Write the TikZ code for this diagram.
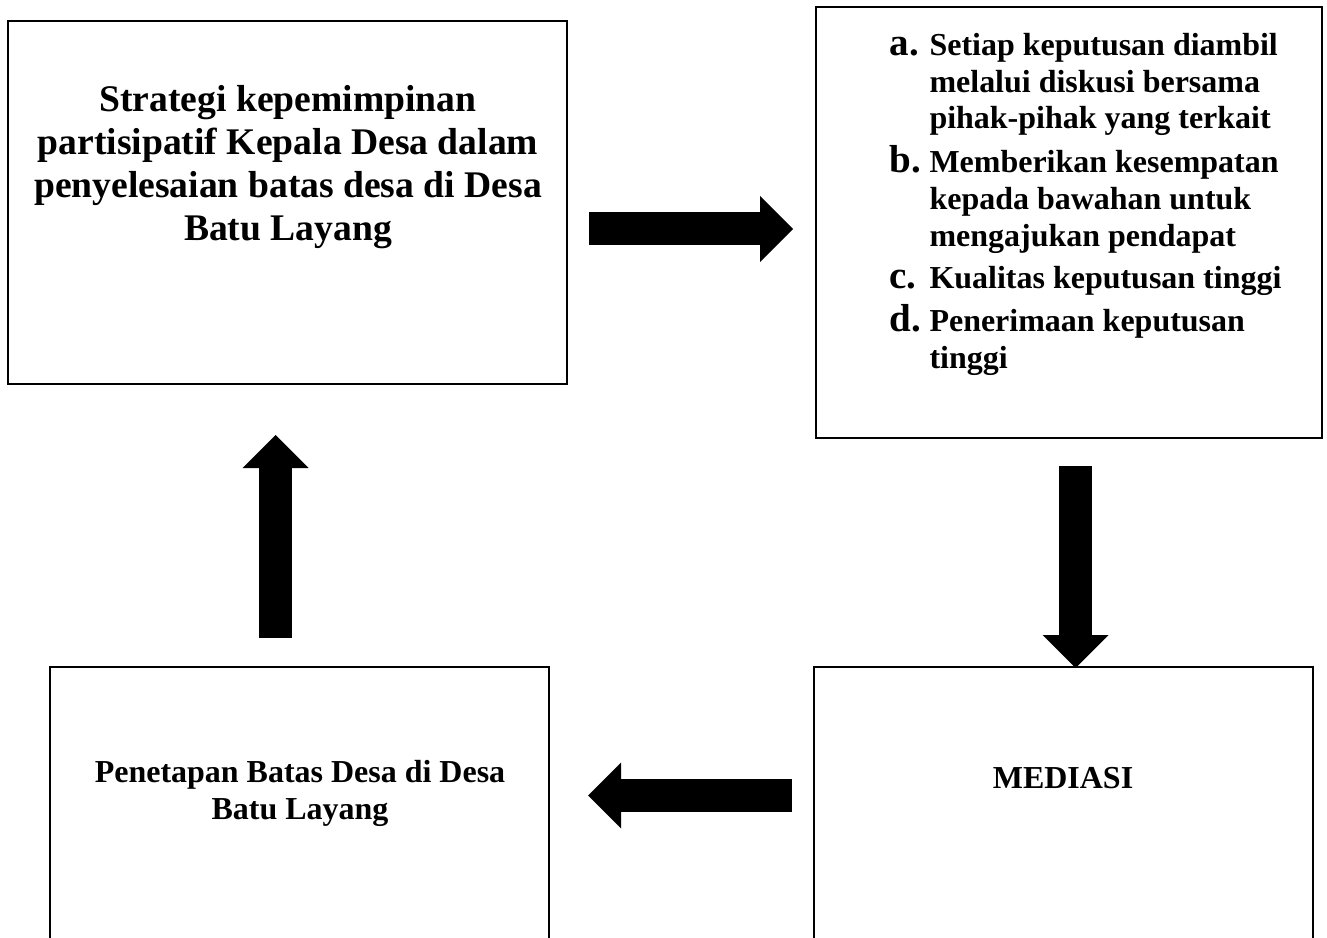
\documentclass[tikz,border=0pt]{standalone}
\usepackage{fontspec}
\usepackage{graphicx}
\setmainfont{Liberation Serif}
\usetikzlibrary{arrows.meta,positioning}

\newcommand{\butir}[1]{\scalebox{1.22}{#1}}

\tikzset{
    kotak/.style={draw, line width=1.6pt, inner sep=0pt},
    judul/.style={align=center, inner sep=0pt, font=\bfseries\fontsize{21.4}{24.6}\selectfont},
    isi/.style={align=center, inner sep=0pt, font=\bfseries\fontsize{18.2}{21}\selectfont},
    panah/.style={line width=0.66cm, -{Triangle[width=1.32cm, length=0.66cm, line width=0pt]}}
}

\begin{document}
\begin{tikzpicture}
    \clip (0,0) rectangle (26.54,-18.74);
    % kotak
    \node[kotak, minimum width=11.18cm, minimum height=7.26cm] (strategi) at (5.75,-4.05) {};
    \node[kotak, minimum width=10.12cm, minimum height=8.62cm] (ciri) at (21.38,-4.45) {};
    \node[kotak, minimum width=9.98cm, minimum height=5.86cm] (penetapan) at (5.99,-16.27) {};
    \node[kotak, minimum width=9.98cm, minimum height=5.86cm] (mediasi) at (21.27,-16.27) {};
    % teks
    \node[judul] (strategiteks) at (5.76,-3.34) {Strategi kepemimpinan\\partisipatif Kepala Desa dalam\\penyelesaian batas desa di Desa\\Batu Layang};
    \node[isi, align=left] (ciriteks) at (21.94,-4.09) {%
        \begin{tabular}{@{}p{0.8cm}@{}p{7.5cm}@{}}
            \butir{a.} & Setiap keputusan diambil\newline melalui diskusi bersama\newline pihak-pihak yang terkait\\[3pt]
            \butir{b.} & Memberikan kesempatan\newline kepada bawahan untuk\newline mengajukan pendapat\\[3pt]
            \butir{c.} & Kualitas keputusan tinggi\\[3pt]
            \butir{d.} & Penerimaan keputusan\newline tinggi
        \end{tabular}};
    \node[isi] (penetapanteks) at (6.0,-15.86) {Penetapan Batas Desa di Desa\\Batu Layang};
    \node[isi] (mediasiteks) at (21.26,-15.56) {MEDIASI};
    % panah
    \coordinate (kanan1) at (11.78,-4.58);
    \coordinate (kanan2) at (15.86,-4.58);
    \coordinate (bawah1) at (21.51,-9.32);
    \coordinate (bawah2) at (21.51,-13.36);
    \coordinate (kiri1) at (15.84,-15.91);
    \coordinate (kiri2) at (11.76,-15.91);
    \coordinate (atas1) at (5.51,-12.76);
    \coordinate (atas2) at (5.51,-8.70);
    \draw[panah] (kanan1) -- (kanan2);
    \draw[panah] (bawah1) -- (bawah2);
    \draw[panah] (kiri1) -- (kiri2);
    \draw[panah] (atas1) -- (atas2);
\end{tikzpicture}
\end{document}
